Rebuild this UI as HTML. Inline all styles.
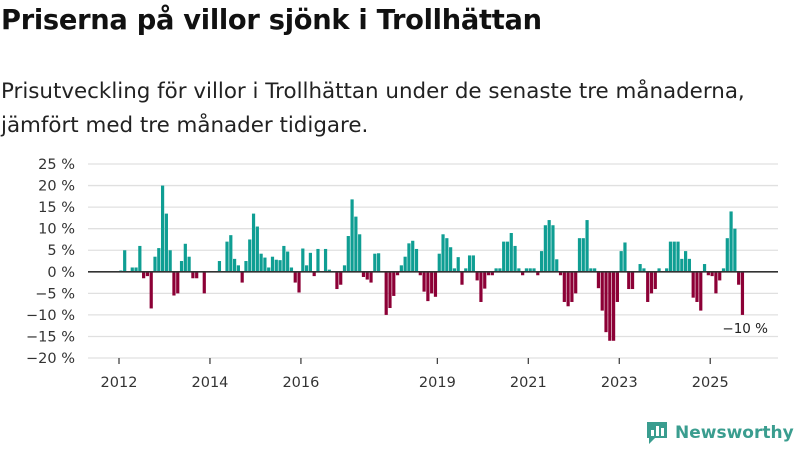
<!DOCTYPE html>
<html><head><meta charset="utf-8"><style>
body{margin:0;width:800px;height:450px;background:#fff;font-family:"DejaVu Sans",sans-serif;overflow:hidden;position:relative}
h1{position:absolute;left:1px;top:5px;margin:0;font-size:27.3px;font-weight:bold;color:#111;letter-spacing:-0.3px;white-space:nowrap}
p{position:absolute;left:1px;top:75px;margin:0;font-size:21.4px;line-height:34px;color:#222;width:798px;white-space:nowrap}
</style></head><body>
<h1>Priserna på villor sjönk i Trollhättan</h1>
<p>Prisutveckling för villor i Trollhättan under de senaste tre månaderna,<br>jämfört med tre månader tidigare.</p>
<svg id="chart" width="800" height="450" style="position:absolute;left:0;top:0"></svg>
<div style="position:absolute;left:645px;top:420px;display:flex;align-items:center">
<svg width="24" height="26"><path d="M2 2h20v16H10l-6 6v-6H2z" fill="#3a9d8f"/><rect x="6" y="10" width="3" height="6" fill="#fff"/><rect x="11" y="6" width="3" height="10" fill="#fff"/><rect x="16" y="8" width="3" height="8" fill="#fff"/></svg>
<span style="font-size:17px;font-weight:bold;color:#3a9d8f;margin-left:6px">Newsworthy</span></div>
<script>
const yTicks=[25,20,15,10,5,0,-5,-10,-15,-20];
const yearLabels=[2012,2014,2016,2019,2021,2023,2025];
const values=[0.3,5,0,1,1,6,-1.5,-1,-8.5,3.5,5.5,20,13.5,5,-5.5,-5,2.5,6.5,3.5,-1.5,-1.5,0,-5,0,0,0,2.5,0,7,8.5,3,1.5,-2.5,2.5,7.5,13.5,10.5,
4.2,3.3,1,3.5,2.8,2.7,6,4.7,1,-2.5,-4.8,5.4,1.5,4.4,-1,5.3,0,5.3,0.5,0,-4,-3,1.5,8.3,16.8,12.8,8.7,-1.2,-1.8,-2.5,4.2,4.3,0,-10,-8.4,-5.6,-0.8,1.5,3.5,6.6,7.2,5.3,-0.8,-4.6,-6.8,-5,-5.8,
4.2,8.7,7.8,5.7,0.8,3.4,-3,0.8,3.8,3.8,-2,-7,-3.9,-0.8,-0.8,0.8,0.8,7,7,9,6,0.8,-0.8,0.8,0.8,0.8,-0.8,4.8,10.8,12,10.8,2.9,-0.8,-7,-8,-7,-5,7.8,7.8,12,0.8,0.8,-3.8,-9,-14,
-16,-16,-7,4.8,6.8,-4,-4,0,1.8,0.8,-7,-5,-4,0.8,0,0.8,7,7,7,3,4.8,3,-6,-7,-9,1.8,-0.8,-1,-5,-2,0.8,7.8,14,10,-3,-10];
const NS="http://www.w3.org/2000/svg",svg=document.getElementById('chart');
const y=v=>271.8-v*4.311, x=m=>119+m*3.79;
function mk(t,a){const e=document.createElementNS(NS,t);for(const k in a)e.setAttribute(k,a[k]);svg.appendChild(e);return e;}
yTicks.forEach(t=>{
 const g=mk('line',{x1:88,x2:778,y1:y(t),y2:y(t),stroke:'#e0e0e0','stroke-width':1.3});
 
 
 const l=mk('text',{x:75,y:y(t)+5,'text-anchor':'end','font-size':14.5,fill:'#333','font-family':'DejaVu Sans'});
 l.textContent=(t<0?'−'+(-t):t)+' %';
 
 
});
yearLabels.forEach(yr=>{
 const m=(yr-2012)*12;
 const t=mk('line',{x1:x(m),x2:x(m),y1:358,y2:364,stroke:'#444','stroke-width':1.3});
 
 
 const l=mk('text',{x:x(m),y:387,'text-anchor':'middle','font-size':14.5,fill:'#333','font-family':'DejaVu Sans'});
 l.textContent=yr;
 
 
});
values.forEach((v,i)=>{
 if(v===0)return;
 const cx=x(i+0.5);
 const r=mk('rect',{x:cx-1.6,width:3.2,y:Math.min(y(v),y(0)),height:Math.abs(y(v)-y(0)),fill:v>0?'#0f9e93':'#8c0036'});
 
 
});
const z=mk('line',{x1:88,x2:778,y1:y(0),y2:y(0),stroke:'#333','stroke-width':1.6});


const last=values[values.length-1];
const lb=mk('text',{x:768,y:y(last)+18,'text-anchor':'end','font-size':13.5,fill:'#222','font-family':'DejaVu Sans'});
lb.textContent='−'+Math.abs(last)+' %';


</script>
</body></html>
